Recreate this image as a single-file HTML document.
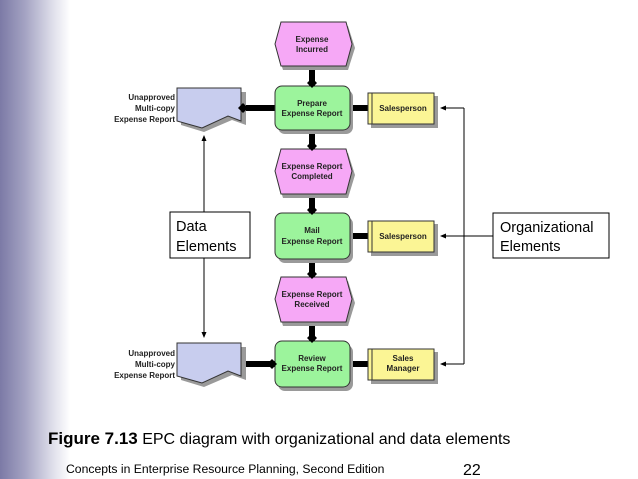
<!DOCTYPE html>
<html><head><style>
html,body{margin:0;padding:0;background:#fff;}
body{width:638px;height:479px;overflow:hidden;position:relative;}
.bg{position:absolute;left:0;top:0;width:70px;height:479px;background:linear-gradient(to right,#7c7aa6 0%,#a3a2c2 35%,#dedeea 75%,#fff 100%);}
svg{position:absolute;left:0;top:0;}
</style></head><body>
<div class="bg"></div>
<svg width="638" height="479" font-family="Liberation Sans, sans-serif">
<defs>
<marker id="a" markerWidth="6" markerHeight="6" refX="5" refY="3" orient="auto"><path d="M0,0.5 L6,3 L0,5.5z" fill="#000"/></marker>
</defs>
<g stroke="#000" stroke-width="6">
<line x1="312" y1="62" x2="312" y2="345"/>
<line x1="238" y1="108" x2="280" y2="108"/>
<line x1="345" y1="108" x2="372" y2="108"/>
<line x1="345" y1="236" x2="372" y2="236"/>
<line x1="238" y1="364" x2="280" y2="364"/>
<line x1="345" y1="364" x2="372" y2="364"/>
</g>
<g fill="#9a9a9a">
<polygon points="283,26 348,26 355,48 348,70 283,70 276,48"/>
<polygon points="283,153 348,153 355,175 348,198 283,198 276,175"/>
<polygon points="283,281 348,281 355,303 348,326 283,326 276,303"/>
<rect x="278" y="90" width="75" height="44" rx="7"/>
<rect x="278" y="217" width="75" height="46" rx="7"/>
<rect x="278" y="345" width="75" height="46" rx="7"/>
<rect x="371" y="96" width="67" height="32"/>
<rect x="371" y="224" width="67" height="32"/>
<rect x="371" y="352" width="67" height="32"/>
<polygon points="181,92 246,92 246,125 232,120 204,132 181,125"/>
<polygon points="181,347 246,347 246,380 232,375 204,387 181,380"/>
</g>
<g fill="#f6a8f6" stroke="#333" stroke-width="1">
<polygon points="281,22 346,22 352,44 346,66 281,66 275,44"/>
<polygon points="281,149 346,149 352,171 346,194 281,194 275,171"/>
<polygon points="281,277 346,277 352,299 346,322 281,322 275,299"/>
</g>
<g fill="#9cf49c" stroke="#333" stroke-width="1">
<rect x="275" y="86" width="75" height="44" rx="7"/>
<rect x="275" y="213" width="75" height="46" rx="7"/>
<rect x="275" y="341" width="75" height="46" rx="7"/>
</g>
<g fill="#fbf595" stroke="#333" stroke-width="1">
<rect x="368" y="93" width="66" height="31"/>
<rect x="368" y="221" width="66" height="31"/>
<rect x="368" y="349" width="66" height="31"/>
</g>
<g stroke="#333"><line x1="372" y1="93" x2="372" y2="124"/><line x1="372" y1="221" x2="372" y2="252"/><line x1="372" y1="349" x2="372" y2="380"/></g>
<g fill="#c8cdee" stroke="#333" stroke-width="1">
<polygon points="177,88 241,88 241,121 228,116 202,128 177,121"/>
<polygon points="177,343 241,343 241,376 228,371 202,383 177,376"/>
</g>
<g fill="#000">
<polygon points="312,78 317,83 312,88 307,83"/>
<polygon points="312,141 317,146 312,151 307,146"/>
<polygon points="312,205 317,210 312,215 307,210"/>
<polygon points="312,269 317,274 312,279 307,274"/>
<polygon points="312,333 317,338 312,343 307,338"/>
<polygon points="243,103 248,108 243,113 238,108"/>
<polygon points="272,359 277,364 272,369 267,364"/>
</g>
<g stroke="#000" stroke-width="1" fill="none">
<line x1="204" y1="212" x2="204" y2="136" marker-end="url(#a)"/>
<line x1="204" y1="258" x2="204" y2="337" marker-end="url(#a)"/>
<polyline points="464,108 464,364"/>
<line x1="464" y1="108" x2="441" y2="108" marker-end="url(#a)"/>
<line x1="493" y1="236" x2="441" y2="236" marker-end="url(#a)"/>
<line x1="464" y1="364" x2="441" y2="364" marker-end="url(#a)"/>
</g>
<rect x="170" y="212" width="80" height="46" fill="#fff" stroke="#000"/>
<rect x="493" y="213" width="116" height="45" fill="#fff" stroke="#000"/>
<g font-size="14.5" fill="#000">
<text x="176" y="231">Data</text><text x="176" y="251">Elements</text>
<text x="500" y="232">Organizational</text><text x="500" y="251">Elements</text>
</g>
<g font-size="8" font-weight="bold" fill="#222" text-anchor="middle">
<text x="312" y="42">Expense</text><text x="312" y="52">Incurred</text>
<text x="312" y="106">Prepare</text><text x="312" y="116">Expense Report</text>
<text x="312" y="169">Expense Report</text><text x="312" y="179">Completed</text>
<text x="312" y="233">Mail</text><text x="312" y="244">Expense Report</text>
<text x="312" y="297">Expense Report</text><text x="312" y="307">Received</text>
<text x="312" y="361">Review</text><text x="312" y="371">Expense Report</text>
<text x="403" y="111">Salesperson</text>
<text x="403" y="239">Salesperson</text>
<text x="403" y="361">Sales</text><text x="403" y="371">Manager</text>
</g>
<g font-size="8" font-weight="bold" fill="#222" text-anchor="end">
<text x="175" y="100">Unapproved</text><text x="175" y="111">Multi-copy</text><text x="175" y="122">Expense Report</text>
<text x="175" y="356">Unapproved</text><text x="175" y="367">Multi-copy</text><text x="175" y="378">Expense Report</text>
</g>
<text x="48" y="444" font-size="16" fill="#000"><tspan font-weight="bold" font-size="17">Figure 7.13</tspan>  EPC diagram with organizational and data elements</text>
<text x="66" y="473" font-size="12.2" fill="#000">Concepts in Enterprise Resource Planning, Second Edition</text>
<text x="463" y="475" font-size="16" fill="#000">22</text>
</svg>
</body></html>
